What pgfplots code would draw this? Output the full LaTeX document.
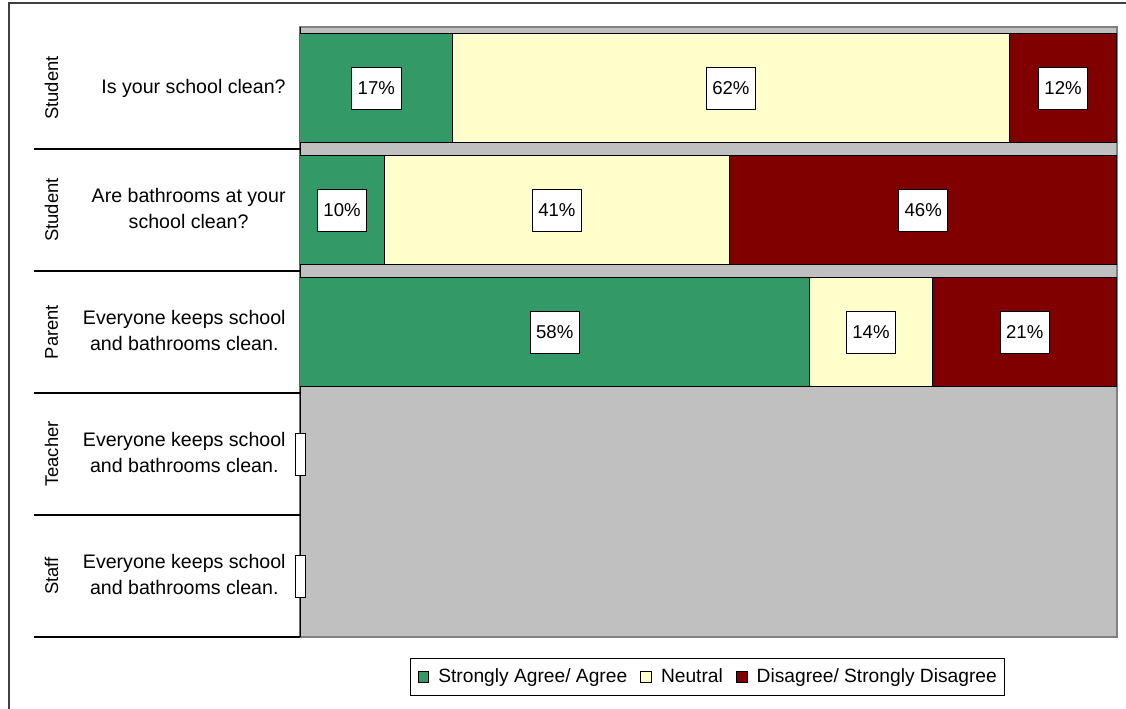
\documentclass[border=0pt]{standalone}
\usepackage{graphicx}
\usepackage{pgfplots}
\pgfplotsset{compat=1.18}
\usepackage{pgfplotstable}
\usepackage{fontspec}
\setmainfont{Liberation Sans}

\definecolor{agree}{HTML}{339966}
\definecolor{neutral}{HTML}{FFFFCC}
\definecolor{disagree}{HTML}{800000}
\definecolor{plotgray}{HTML}{C0C0C0}
\definecolor{bordergray}{HTML}{808080}
\definecolor{framegray}{HTML}{404040}

% raw percentages per row, each row is stretched to the full width
\pgfplotstableread{
row agree neutral disagree
1   17    62      12
2   10    41      46
3   58    14      21
}\survey

\newcommand\total{(\thisrow{agree}+\thisrow{neutral}+\thisrow{disagree})}

\newcommand\rowlabel[2]{%
  $\vcenter{\hbox to 34bp{\hss\rotatebox{90}{\fontsize{9.2bp}{11bp}\selectfont #1}\hss}}%
   \vcenter{\hbox to 100bp{\hss\fontsize{9.8bp}{13.3bp}\selectfont\begin{tabular}{@{}c@{}}#2\end{tabular}}}$}

\pgfplotsset{
  chartbase/.style={
    width=408.5bp, height=305bp, scale only axis,
    xmin=0, xmax=100, ymin=0.5, ymax=5.5, y dir=reverse,
    bar width=0.9,
    /pgf/number format/assume math mode=true,
  },
  pct/.style={
    xbar stacked, fill=#1, draw=black, line width=0.5bp,
    legend image code/.code={\draw[##1, line width=0.5bp] (0bp,-2.7bp) rectangle (5.4bp,2.7bp);},
    point meta=explicit,
    nodes near coords={\pgfmathprintnumber{\pgfplotspointmeta}\%},
    every node near coord/.style={
      anchor=center, fill=white, draw=black, line width=0.4bp, text=black,
      inner xsep=3bp, inner ysep=7bp, minimum height=21bp,
      font=\fontsize{9.3bp}{11bp}\selectfont},
  },
}

\begin{document}
\begin{tikzpicture}
\useasboundingbox (-150bp,-36bp) rectangle (413bp,318.5bp);
\draw[line width=1.2bp, framegray] (-145.5bp,-40bp) -- (-145.5bp,317bp) -- (420bp,317bp);

\begin{axis}[
    chartbase,
    xbar stacked,
    axis background/.style={fill=plotgray},
    axis line style={bordergray, line width=1bp},
    xtick=\empty,
    ytick={1,...,5},
    yticklabels={
      {\rowlabel{Student}{Is your school clean?}},
      {\rowlabel{Student}{Are bathrooms at your\\school clean?}},
      {\rowlabel{Parent}{Everyone keeps school\\and bathrooms clean.}},
      {\rowlabel{Teacher}{Everyone keeps school\\and bathrooms clean.}},
      {\rowlabel{Staff}{Everyone keeps school\\and bathrooms clean.}}},
    yticklabel style={anchor=east, inner sep=0pt, xshift=-7bp},
    ytick pos=left,
    major tick length=0pt,
    extra y ticks={1.5,2.5,3.5,4.5,5.5},
    extra y tick labels={},
    extra y tick style={major tick length=133bp, tick align=outside,
      tick style={black, line width=0.6bp}},
    legend style={at={(0.499,-0.0344)}, anchor=north, legend columns=3,
      draw=black, line width=0.5bp, font=\fontsize{9.6bp}{11.5bp}\selectfont,
      inner xsep=3.5bp, inner ysep=4.5bp, nodes={inner sep=0.5bp},
      /tikz/every odd column/.append style={column sep=4bp},
      /tikz/every even column/.append style={column sep=6bp}},
  ]
  \addplot[pct=agree]
    table[y=row, x expr=100*\thisrow{agree}/\total, meta=agree] \survey;
  \addplot[pct=neutral]
    table[y=row, x expr=100*\thisrow{neutral}/\total, meta=neutral] \survey;
  \addplot[pct=disagree]
    table[y=row, x expr=100*\thisrow{disagree}/\total, meta=disagree] \survey;
  \legend{Strongly Agree/ Agree, Neutral, Disagree/ Strongly Disagree}
  \draw[bordergray, line width=0.6bp] (axis cs:0,0.5) -- ++(-133bp,0);
  \draw[black, line width=0.6bp] (axis cs:0,0.5) -- (axis cs:0,5.5);
\end{axis}

% empty data labels for the rows with no answers
\begin{axis}[chartbase, hide axis]
  \addplot[xbar, draw=none, fill=none, nodes near coords={},
    every node near coord/.style={anchor=center, fill=white, draw=black,
      line width=0.4bp, inner xsep=2.5bp, inner ysep=0pt, minimum height=21bp}]
    coordinates {(0,4) (0,5)};
\end{axis}
\end{tikzpicture}
\end{document}
